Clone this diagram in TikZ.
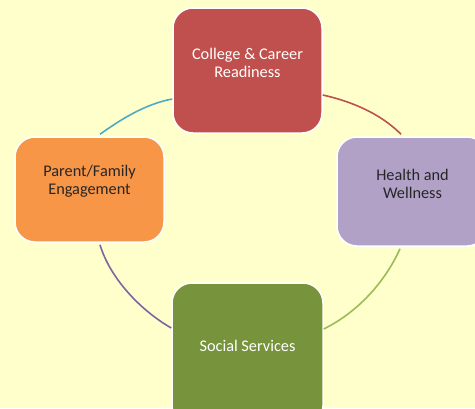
\documentclass[tikz,border=0pt]{standalone}
\usepackage{fontspec}
\setmainfont{Carlito}
\usetikzlibrary{calc}
\definecolor{bgc}{HTML}{FFFFCC}
\definecolor{cred}{HTML}{C0504D}
\definecolor{corange}{HTML}{F79646}
\definecolor{cpurple}{HTML}{B2A1C7}
\definecolor{cgreen}{HTML}{77933C}
\definecolor{lblue}{HTML}{4BACC6}
\definecolor{lred}{HTML}{C0504D}
\definecolor{lpurple}{HTML}{8064A2}
\definecolor{lgreen}{HTML}{9BBB59}
\begin{document}
\begin{tikzpicture}[x=1pt,y=-1pt,
  box/.style={draw=white,line width=1.5pt,rounded corners=20pt,inner sep=0pt},
  arc/.style={line width=1.6pt},
  txt/.style={font=\fontsize{16.3}{18}\selectfont,align=center}]
\useasboundingbox (0,0) rectangle (475,408);
\clip (0,0) rectangle (475,408);
\fill[bgc] (0,0) rectangle (475,408);
% boxes
\node[box,fill=cred,minimum width=149pt,minimum height=125pt,
  label={[txt,text=white,yshift=8pt]center:College \& Career\\Readiness}] (top) at (247.5,70.5) {};
\node[box,fill=corange,minimum width=149pt,minimum height=105pt,
  label={[txt,text=black!85,yshift=8pt]center:Parent/Family\\Engagement}] (left) at (89.5,189.5) {};
\node[box,fill=cpurple,minimum width=150pt,minimum height=109pt,
  label={[txt,text=black!85,yshift=8pt,xshift=0.5pt]center:Health and\\Wellness}] (right) at (412,191.5) {};
\node[box,fill=cgreen,minimum width=151pt,minimum height=143pt,
  label={[txt,text=white,yshift=8.5pt]center:Social Services}] (bottom) at (247.5,354.5) {};
% arcs
\draw[arc,lblue] ([xshift=10.5pt,yshift=2pt]left.north) .. controls (120,120) and (145,104) .. ([yshift=-28.5pt]top.west);
\draw[arc,lred] ([yshift=-24.5pt]top.east) .. controls (350,101) and (380,113) .. ([xshift=-11pt,yshift=2pt]right.north);
\draw[arc,lgreen] ([xshift=-12pt,yshift=-2pt]right.south) .. controls (385,282) and (358,312) .. ([yshift=25.5pt]bottom.east);
\draw[arc,lpurple] ([xshift=10.5pt,yshift=-2pt]left.south) .. controls (110,278) and (140,310) .. ([yshift=26.5pt]bottom.west);
\end{tikzpicture}
\end{document}
